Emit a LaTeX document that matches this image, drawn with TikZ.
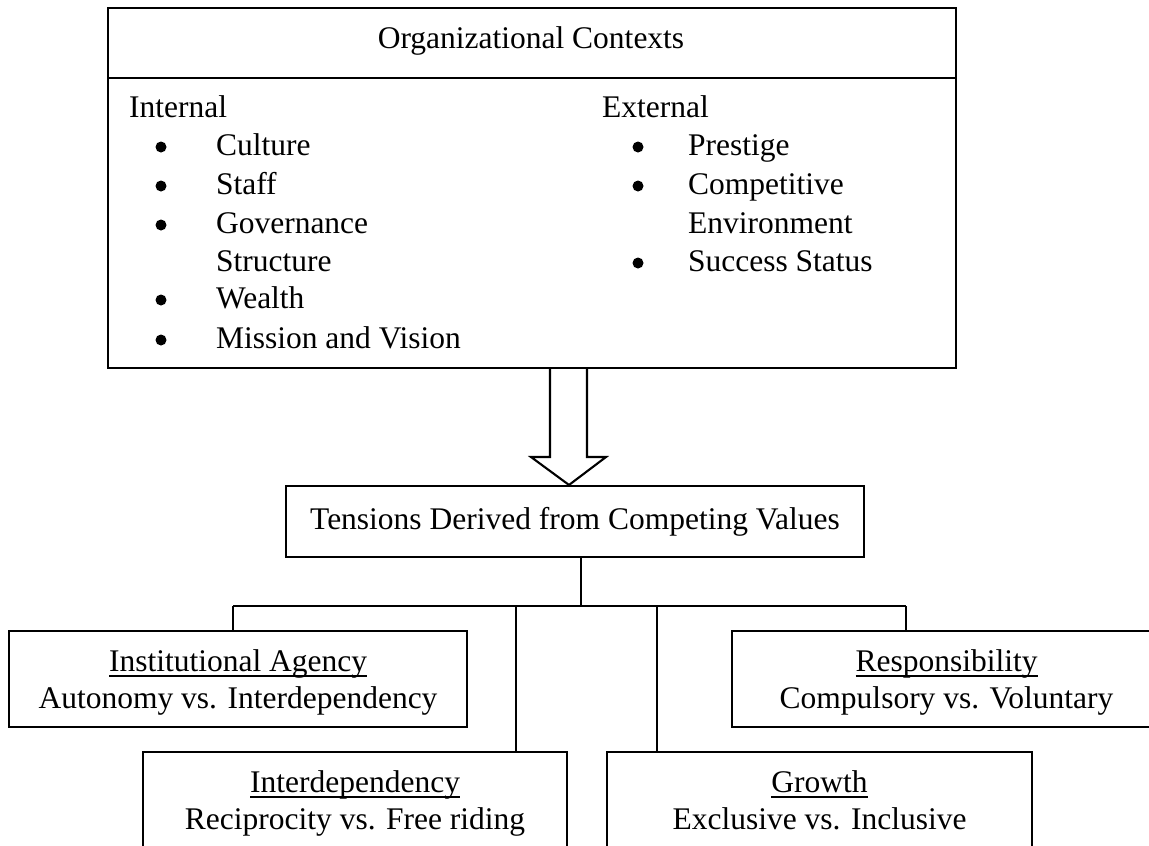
\documentclass[tikz,border=0pt]{standalone}
\usepackage{fontspec}
\setmainfont{Liberation Serif}
\newcommand{\px}{0.381pt}
% heading with a heavier rule just under the baseline
\newcommand{\hd}[1]{\rule{0pt}{11.4pt}\setbox0\hbox{#1}\rlap{\rule[-1.9pt]{\wd0}{0.75pt}}\box0}
\newcommand{\lo}{\rule[-2.7pt]{0pt}{2.7pt}}

\tikzset{
  plainbox/.style={draw,line width=0.8pt,inner sep=0pt,align=center,
    font=\fontsize{12}{14.1}\selectfont},
  txt/.style={inner sep=0pt,font=\fontsize{12}{14}\selectfont},
  dot/.style={circle,fill,inner sep=0pt,minimum size=11*\px}
}

\begin{document}
\begin{tikzpicture}[x=\px,y=-\px,line width=0.8pt]
\useasboundingbox (0,0) rectangle (1149,845);
\clip (0,0) rectangle (1149,845);

% contexts box, heading strip on top
\node[plainbox,anchor=north west,minimum width=848*\px,minimum height=360*\px] (ctx) at (107,7) {};
\coordinate (split) at (107,78);
\draw (ctx.west |- split) -- (ctx.east |- split);
\node[txt,anchor=base] (ctxhead) at (531,48) {Organizational Contexts};

% left column
\node[txt,anchor=base west] (intl) at (128,117) {Internal};
\foreach \y/\item [count=\i] in {155/Culture,194/Staff,233/Governance,271/Structure,308/Wealth,348/Mission and Vision}{% one line each
    \node[txt,anchor=base west] (in\i) at (215,\y) {\item};}
\foreach \y [count=\i] in {155,194,233,308,348}{% no dot for the wrapped line
    \node[dot] (inb\i) at (161,\y-8) {};}

% right column
\node[txt,anchor=base west] (extl) at (601,117) {External};
\foreach \y/\item [count=\i] in {155/Prestige,194/Competitive,233/Environment,271/Success Status}{%
    \node[txt,anchor=base west] (ex\i) at (687,\y) {\item};}
\foreach \y [count=\i] in {155,194,271}{%
    \node[dot] (exb\i) at (638,\y-8) {};}

% tensions box and the hollow arrow into it
\node[plainbox,minimum width=578*\px,minimum height=71*\px] (tens) at (575,521.5) {Tensions Derived from Competing Values};
\draw (ctx.south -| 550,0) -- (550,457) -- (531,457) -- (tens.north -| 569,0)
      -- (606,457) -- (587,457) -- (ctx.south -| 587,0);

% the four pairs
\node[plainbox,anchor=north west,minimum width=458*\px,minimum height=96*\px] (inst) at (8,630)
    {\hd{Institutional Agency}\\Autonomy vs. Interdependency\lo};
\node[plainbox,anchor=north west,minimum width=429*\px,minimum height=96*\px] (resp) at (731,630)
    {\hd{Responsibility}\\Compulsory vs. Voluntary\lo};
\node[plainbox,anchor=north west,minimum width=424*\px,minimum height=96*\px] (interd) at (142,751)
    {\hd{Interdependency}\\Reciprocity vs. Free riding\lo};
\node[plainbox,anchor=north west,minimum width=425*\px,minimum height=96*\px] (grow) at (606,751)
    {\hd{Growth}\\Exclusive vs. Inclusive\lo};

% tree lines
\coordinate (bus) at (581,606);
\draw (tens.south -| bus) -- (bus);
\coordinate (busl) at (233,606);
\coordinate (busr) at (906,606);
\draw (busl) -- (busr);
\foreach \x/\n in {233/inst,516/interd,657/grow,906/resp}{% drops from the bus
    \coordinate (d) at (\x,606);
    \draw (d) -- (\n.north -| d);}

\end{tikzpicture}
\end{document}
